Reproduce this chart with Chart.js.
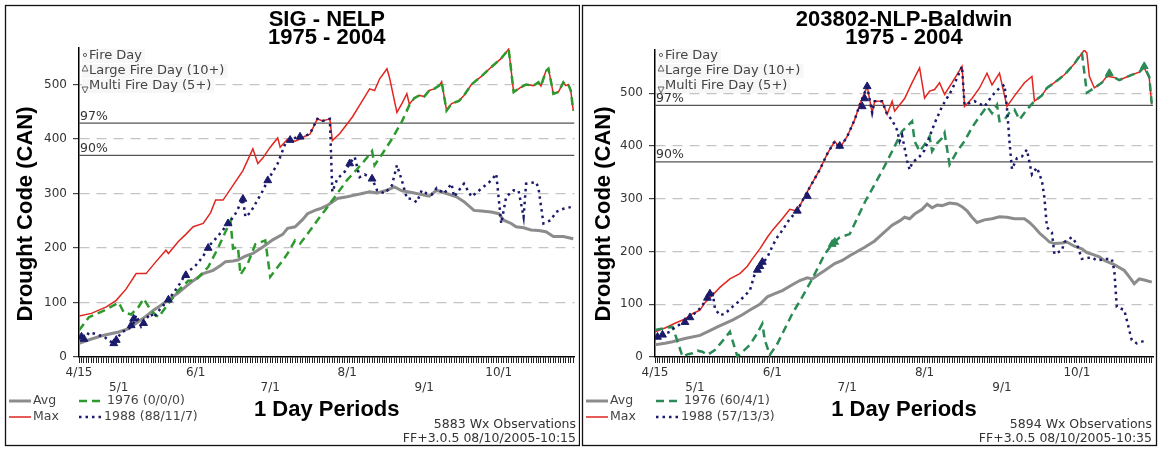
<!DOCTYPE html>
<html>
<head>
<meta charset="utf-8">
<script src="https://cdn.jsdelivr.net/npm/chart.js@4.4.0/dist/chart.umd.min.js"></script>
<style>
html, body { margin: 0; padding: 0; background: #fff; }
body { width: 1160px; height: 449px; position: relative; overflow: hidden; }
canvas { position: absolute; top: 0; }
#left { left: 0; }
#right { left: 580px; }
</style>
</head>
<body>
<canvas id="left" width="580" height="449"></canvas>
<canvas id="right" width="580" height="449"></canvas>
<script>
// Day index 0 = 4/15 ... 199 = 10/31
const monthDays = [0, 16, 47, 77, 108, 139, 169];
const monthLabels = ["4/15", "5/1", "6/1", "7/1", "8/1", "9/1", "10/1"];
const yTicks = [0, 100, 200, 300, 400, 500];
const pctLabels = ["97%", "90%"];

// SIG - NELP  [day, drought code]
const sigAvg = [[0,25],[5,33],[10,40],[16,46],[20,52],[23,62],[27,75],[30,86],[33,95],[36,105],[40,118],[43,129],[46,140],[50,153],[54,159],[57,168],[59,175],[62,176],[64,178],[67,185],[70,190],[74,202],[78,215],[82,225],[84,236],[87,239],[90,252],[92,263],[95,269],[97,272],[100,278],[104,291],[108,294],[111,297],[114,300],[117,303],[120,301],[124,306],[127,312],[130,305],[134,302],[138,298],[141,295],[144,306],[148,300],[152,294],[155,285],[159,269],[162,268],[166,266],[169,263],[171,251],[174,245],[176,239],[179,237],[182,233],[185,232],[188,230],[191,221],[195,221],[199,217]];
const sigMax = [[0,75],[5,80],[11,92],[15,104],[19,125],[23,153],[27,153],[31,175],[35,196],[36,190],[40,212],[43,225],[46,239],[50,245],[53,265],[55,288],[58,288],[62,315],[66,342],[70,382],[72,355],[74,365],[77,385],[80,402],[81,385],[84,400],[87,396],[89,400],[91,405],[93,409],[96,437],[98,433],[101,437],[102,397],[105,410],[107,422],[110,440],[113,462],[117,492],[119,489],[121,510],[124,529],[125,513],[128,449],[130,465],[132,483],[133,464],[135,475],[137,480],[139,478],[141,489],[143,492],[145,498],[146,505],[148,452],[150,465],[153,470],[155,480],[158,500],[162,515],[166,532],[170,548],[173,565],[175,486],[178,495],[180,500],[183,498],[185,504],[186,497],[188,525],[189,529],[191,483],[193,486],[195,504],[196,498],[197,500],[198,489],[199,452]];
const sig1976 = [[0,49],[4,73],[10,85],[16,100],[18,82],[21,78],[24,92],[26,107],[29,85],[32,73],[36,98],[40,122],[44,140],[47,141],[52,165],[56,200],[58,220],[61,250],[62,199],[64,202],[65,151],[68,172],[71,207],[75,214],[77,147],[82,177],[84,190],[87,214],[89,208],[93,232],[96,251],[100,275],[104,300],[108,325],[112,345],[116,366],[118,378],[119,352],[122,372],[126,400],[130,432],[133,462],[135,475],[137,480],[139,478],[141,489],[143,492],[145,498],[146,505],[148,452],[150,465],[153,470],[155,480],[158,500],[162,515],[166,532],[170,548],[173,565],[175,486],[178,495],[180,500],[183,498],[185,504],[186,497],[188,525],[189,529],[191,483],[193,486],[195,504],[196,498],[197,500],[198,489],[199,452]];
const sig1988 = [[0,37],[2,30],[4,45],[6,43],[8,40],[10,38],[12,30],[14,25],[15,31],[17,45],[20,52],[22,62],[23,77],[25,56],[27,70],[29,80],[30,72],[33,90],[36,105],[40,130],[43,153],[47,168],[50,185],[52,202],[56,222],[59,239],[61,250],[63,263],[66,290],[67,257],[69,265],[71,281],[74,305],[76,324],[80,355],[83,391],[86,400],[88,404],[90,403],[93,410],[96,437],[98,433],[101,437],[102,303],[103,315],[104,327],[107,340],[109,355],[111,367],[113,330],[115,335],[118,327],[120,306],[123,300],[126,315],[128,352],[130,324],[132,291],[134,290],[136,284],[138,306],[140,300],[142,298],[144,310],[147,300],[150,318],[151,294],[155,318],[158,294],[162,309],[166,324],[168,336],[170,245],[172,294],[175,306],[177,305],[179,257],[180,318],[184,321],[185,310],[187,245],[190,251],[192,266],[195,272],[198,275]];
const sigMarks88 = [[1,37],[2,33],[14,25],[15,31],[21,58],[22,70],[26,62],[36,105],[43,150],[52,200],[60,245],[66,290],[76,324],[85,398],[89,404],[109,355],[118,327]];
const sigMarks76 = [];
const sigPct = [429, 370];

// 203802-NLP-Baldwin
const bldAvg = [[0,23],[4,26],[7,29],[12,35],[18,41],[22,50],[25,57],[31,70],[35,80],[38,89],[42,100],[45,114],[48,120],[51,126],[55,137],[58,145],[61,150],[63,148],[66,158],[68,164],[72,177],[75,183],[78,192],[81,200],[84,208],[88,220],[91,233],[95,250],[98,258],[100,265],[102,262],[104,271],[107,280],[109,290],[111,283],[113,288],[115,287],[118,292],[121,290],[123,285],[125,277],[127,265],[129,255],[132,260],[135,262],[138,266],[141,265],[144,262],[148,262],[150,255],[152,246],[154,235],[156,227],[158,218],[160,215],[163,216],[165,218],[168,210],[171,205],[173,198],[175,195],[178,190],[180,183],[184,175],[188,164],[190,152],[192,139],[194,148],[196,146],[199,142]];
const bldMax = [[0,48],[4,55],[8,64],[12,72],[15,82],[18,89],[20,103],[23,117],[26,132],[30,148],[34,158],[37,172],[39,186],[42,205],[45,227],[47,240],[51,262],[54,280],[57,277],[60,305],[63,330],[66,355],[69,385],[72,409],[74,396],[77,418],[80,450],[82,478],[85,513],[87,463],[88,485],[91,485],[93,460],[95,485],[96,466],[100,490],[103,520],[106,548],[108,491],[110,504],[112,507],[114,520],[116,498],[119,520],[123,551],[124,475],[127,490],[130,510],[133,538],[135,516],[138,538],[141,475],[144,495],[148,520],[151,532],[152,485],[155,496],[157,510],[160,520],[164,535],[168,556],[172,582],[173,576],[174,532],[176,510],[179,520],[181,532],[184,530],[186,525],[188,529],[191,535],[194,540],[196,548],[198,529],[199,479]];
const bld1976 = [[0,51],[4,55],[7,57],[9,30],[11,1],[13,5],[15,7],[17,12],[19,10],[21,4],[24,13],[27,30],[30,48],[31,32],[33,1],[36,14],[38,23],[41,45],[43,63],[44,32],[46,4],[49,25],[51,44],[55,82],[59,114],[63,148],[68,195],[71,214],[74,227],[78,233],[84,293],[91,353],[95,390],[99,428],[103,447],[104,409],[106,390],[108,403],[110,418],[111,390],[113,405],[115,415],[116,425],[118,365],[121,390],[124,409],[127,435],[130,456],[133,475],[135,462],[137,478],[138,447],[140,450],[142,463],[144,469],[146,450],[149,469],[152,485],[155,496],[157,510],[160,520],[164,535],[168,556],[171,577],[173,501],[176,510],[179,520],[182,538],[184,530],[186,525],[188,529],[191,535],[194,540],[196,551],[198,531],[199,481]];
const bld1988 = [[0,38],[2,40],[4,44],[6,48],[8,57],[11,64],[13,70],[15,79],[18,92],[20,105],[22,117],[23,126],[24,92],[26,79],[28,82],[31,95],[34,107],[38,126],[40,158],[43,177],[45,189],[47,210],[49,227],[51,240],[54,262],[57,277],[60,305],[63,330],[66,355],[69,385],[72,409],[74,396],[77,418],[80,450],[82,478],[85,513],[87,463],[88,485],[91,485],[93,460],[95,449],[97,430],[98,409],[99,420],[101,372],[102,355],[103,368],[106,380],[108,392],[110,418],[112,443],[115,475],[119,507],[123,551],[124,478],[128,485],[132,475],[135,495],[138,510],[140,516],[141,472],[142,409],[143,356],[145,377],[147,380],[149,393],[151,346],[153,359],[155,334],[156,302],[157,246],[159,236],[160,195],[163,202],[164,218],[167,227],[169,214],[171,186],[175,189],[177,183],[181,186],[183,186],[184,164],[185,95],[188,89],[191,32],[193,26],[197,32]];
const bldMarks88 = [[1,38],[3,42],[12,66],[14,75],[21,112],[22,120],[41,165],[42,172],[43,180],[57,277],[61,305],[74,400],[83,475],[84,490],[85,513]];
const bldMarks76 = [[71,214],[72,218],[182,538],[196,551]];
const bldPct = [477, 370];

const NAVY = "#1b1b6b";
const RED = "#e0261f";
const GRAY = "#8c8c8c";
const BOLD = 'bold 22px "Liberation Sans", Arial, sans-serif';
const SMALL = '12.5px "DejaVu Sans", Verdana, sans-serif';

function pts(list) {
    return list.map(d => ({ x: d[0], y: d[1] }));
}

function decor(p) {
    return {
        id: "decor",
        beforeDraw(chart) {
            const ctx = chart.ctx;
            ctx.save();
            ctx.fillStyle = "#fff";
            ctx.fillRect(0, 0, chart.width, chart.height);
            ctx.strokeStyle = "#111";
            ctx.lineWidth = 1.3;
            ctx.strokeRect(p.frame[0], p.frame[1], p.frame[2], p.frame[3]);
            ctx.restore();
        },
        afterDraw(chart) {
            const ctx = chart.ctx;
            const area = chart.chartArea;
            const ys = chart.scales.y;
            const cx = (area.left + area.right) / 2;
            ctx.save();

            // titles
            ctx.fillStyle = "#000";
            ctx.font = BOLD;
            ctx.textAlign = "center";
            ctx.textBaseline = "middle";
            ctx.fillText(p.title, cx, 20);
            ctx.fillText("1975 - 2004", cx, 38);
            ctx.fillText("1 Day Periods", cx, 410);
            ctx.save();
            ctx.translate(p.yTitleX, 214);
            ctx.rotate(-Math.PI / 2);
            ctx.fillText("Drought Code (CAN)", 0, 0);
            ctx.restore();

            // footer
            ctx.font = SMALL;
            ctx.fillStyle = "#333";
            ctx.textAlign = "right";
            ctx.fillText(p.obs, p.footX, 425);
            ctx.fillText("FF+3.0.5 08/10/2005-" + p.time, p.footX, 439);

            // percentile labels
            ctx.textAlign = "left";
            ctx.textBaseline = "bottom";
            p.pct.forEach((v, i) => {
                ctx.fillText(pctLabels[i], area.left + 1, ys.getPixelForValue(v) - 0.5);
            });

            // series legend
            ctx.textBaseline = "middle";
            const cols = [p.legX[0], p.legX[1]];
            const rows = [401, 417];
            const entries = [["Avg", 0, 0, 22], ["Max", 0, 1, 22], [p.names[0], 1, 0, 26], [p.names[1], 1, 1, 23]];
            entries.forEach(e => {
                const ds = chart.data.datasets.find(d => d.label === e[0]);
                const x0 = cols[e[1]], y = rows[e[2]];
                ctx.save();
                ctx.strokeStyle = ds.borderColor;
                ctx.lineWidth = ds.borderWidth;
                ctx.setLineDash(ds.borderDash || []);
                ctx.beginPath();
                ctx.moveTo(x0, y);
                ctx.lineTo(x0 + e[3], y);
                ctx.stroke();
                ctx.restore();
                ctx.fillStyle = "#444";
                ctx.fillText(e[0], x0 + e[3] + 2, y);
            });

            // fire day key
            const fx = area.left + 3;
            const keys = ["Fire Day", "Large Fire Day (10+)", "Multi Fire Day (5+)"];
            ctx.font = '13px "DejaVu Sans", Verdana, sans-serif';
            keys.forEach((k, i) => {
                const y = 56 + i * 15;
                const w = ctx.measureText(k).width;
                ctx.fillStyle = "#f7f7f7";
                ctx.fillRect(fx, y - 7, w + 10, 14);
                ctx.fillStyle = "#444";
                ctx.fillText(k, fx + 7, y);
            });
            ctx.strokeStyle = "#555";
            ctx.lineWidth = 0.9;
            ctx.beginPath();
            ctx.arc(fx + 3, 55, 1.6, 0, Math.PI * 2);
            ctx.stroke();
            ctx.beginPath();
            ctx.moveTo(fx + 3, 65); ctx.lineTo(fx + 6, 71); ctx.lineTo(fx, 71); ctx.closePath();
            ctx.stroke();
            ctx.beginPath();
            ctx.moveTo(fx, 87); ctx.lineTo(fx + 6, 87); ctx.lineTo(fx + 3, 93); ctx.closePath();
            ctx.stroke();

            ctx.restore();
        }
    };
}

function buildPanel(id, p) {
    const datasets = [
        { label: "m88", data: pts(p.marks88), showLine: false, pointStyle: "triangle", pointRadius: 4.5,
          pointBackgroundColor: NAVY, pointBorderColor: NAVY, order: 0 },
        { label: "m76", data: pts(p.marks76), showLine: false, pointStyle: "triangle", pointRadius: 4.5,
          pointBackgroundColor: p.green, pointBorderColor: p.green, order: 0 },
        { label: p.names[1], data: pts(p.y88), borderColor: NAVY, borderWidth: 2.5, borderDash: [2.5, 4], order: 1 },
        { label: p.names[0], data: pts(p.y76), borderColor: p.green, borderWidth: 2.5, borderDash: [8, 5], order: 2 },
        { label: "Max", data: pts(p.max), borderColor: RED, borderWidth: 1.5, order: 3 },
        { label: "Avg", data: pts(p.avg), borderColor: GRAY, borderWidth: 3, order: 4 }
    ];
    p.pct.forEach((v, i) => {
        datasets.push({ label: pctLabels[i], data: [{ x: 0, y: v }, { x: 199.5, y: v }],
            borderColor: "#555", borderWidth: 1.2, order: 5 });
    });

    return new Chart(document.getElementById(id), {
        type: "line",
        data: { datasets: datasets },
        options: {
            responsive: false,
            animation: false,
            events: [],
            elements: { point: { radius: 0 }, line: { tension: 0 } },
            layout: { padding: { left: 0, right: p.padRight, top: p.padTop, bottom: 0 } },
            plugins: { legend: { display: false }, tooltip: { enabled: false } },
            scales: {
                x: {
                    type: "linear", min: 0, max: 199.5,
                    afterFit: s => { s.height = 92; },
                    afterBuildTicks: s => { s.ticks = Array.from({ length: 200 }, (_, i) => ({ value: i })); },
                    grid: { drawOnChartArea: false, tickLength: 6, tickColor: "#222", tickWidth: 1 },
                    border: { color: "#000", width: 1.5 },
                    ticks: {
                        autoSkip: false, maxRotation: 0, minRotation: 0, padding: 3,
                        color: "#333", font: { family: "DejaVu Sans", size: 12 },
                        callback: v => {
                            const i = monthDays.indexOf(v);
                            if (i < 0) return "";
                            return i % 2 === 0 ? [monthLabels[i]] : ["", monthLabels[i]];
                        }
                    }
                },
                y: {
                    min: 0, max: p.yMax,
                    afterFit: s => { s.width = p.yWidth; },
                    afterBuildTicks: s => { s.ticks = yTicks.map(v => ({ value: v })); },
                    grid: {
                        color: c => (c.tick && c.tick.value === 0) ? "rgba(0,0,0,0)" : "#c4c4c4",
                        lineWidth: 1.2, tickLength: 6, tickColor: "#444"
                    },
                    border: { color: "#000", width: 1.5, dash: [10, 7] },
                    ticks: { padding: 6, color: "#333", font: { family: "DejaVu Sans", size: 12 } }
                }
            }
        },
        plugins: [decor(p)]
    });
}

buildPanel("left", {
    title: "SIG - NELP", names: ["1976 (0/0/0)", "1988 (88/11/7)"],
    obs: "5883 Wx Observations", time: "10:15",
    avg: sigAvg, max: sigMax, y76: sig1976, y88: sig1988,
    marks88: sigMarks88, marks76: sigMarks76, pct: sigPct,
    green: "#2c9a2c", yMax: 567, yWidth: 79, padRight: 3, padTop: 48,
    frame: [5.5, 5.5, 574, 440], yTitleX: 26, footX: 576, legX: [9, 79]
});

buildPanel("right", {
    title: "203802-NLP-Baldwin", names: ["1976 (60/4/1)", "1988 (57/13/3)"],
    obs: "5894 Wx Observations", time: "10:35",
    avg: bldAvg, max: bldMax, y76: bld1976, y88: bld1988,
    marks88: bldMarks88, marks76: bldMarks76, pct: bldPct,
    green: "#2a8a55", yMax: 582, yWidth: 75, padRight: 7, padTop: 50,
    frame: [2.5, 5.5, 574, 440], yTitleX: 24, footX: 572, legX: [6, 76]
});
</script>
</body>
</html>
